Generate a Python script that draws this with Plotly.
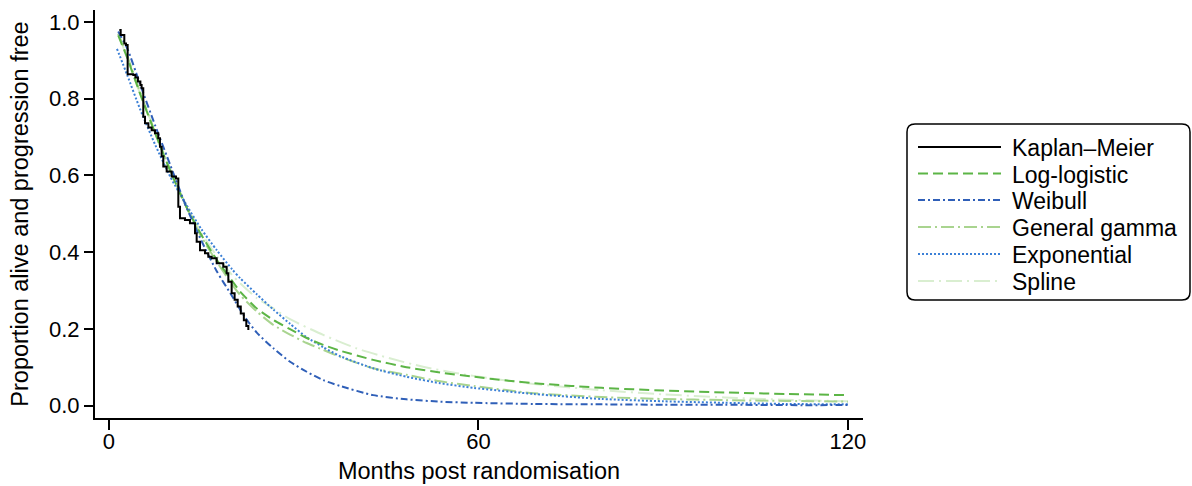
import plotly.graph_objects as go
import re

# ---- data ----
km_t = [1.68, 1.9, 2.49, 2.76, 3.03, 3.95, 4.3, 4.7, 5.1, 5.3, 5.57, 5.85, 6.4, 6.93, 7.47, 8.0, 8.28,
        8.55, 8.82, 9.37, 10.18, 10.88, 11.26, 11.53, 12.34, 13.15, 13.97, 14.24, 14.78, 15.59,
        16.13, 16.67, 17.49, 18.56, 19.11, 19.38, 19.92, 20.4, 20.9, 21.4, 21.9, 22.3, 22.63]
km_s = [0.979, 0.966, 0.944, 0.940, 0.864, 0.862, 0.855, 0.845, 0.836, 0.827, 0.753, 0.736, 0.725,
        0.718, 0.710, 0.697, 0.675, 0.650, 0.623, 0.610, 0.597, 0.592, 0.518, 0.488, 0.484, 0.475,
        0.449, 0.427, 0.405, 0.397, 0.388, 0.384, 0.371, 0.362, 0.345, 0.323, 0.293, 0.276, 0.258,
        0.240, 0.222, 0.207, 0.197]

ll_t = [1.5, 3, 5, 7.5, 10, 12.5, 15, 17.5, 20, 21.3, 24, 26.7, 29.4, 32.1, 34.8, 37.5, 42.9, 48.3,
        53.8, 59.2, 64.6, 70, 80, 90, 100, 110, 120]
ll_s = [0.965, 0.905, 0.815, 0.71, 0.61, 0.52, 0.445, 0.38, 0.325, 0.297, 0.253, 0.223, 0.199, 0.176,
        0.158, 0.143, 0.119, 0.100, 0.086, 0.075, 0.065, 0.057, 0.046, 0.039, 0.034, 0.030, 0.027]

wb_t = [1.5, 3, 5, 7.5, 10, 12.5, 15, 17.5, 20, 22, 24, 26.7, 29.4, 32.1, 34.8, 37.5, 42.9, 48.3,
        53.8, 59.2, 69, 80, 90, 100, 110, 120]
wb_s = [0.975, 0.93, 0.84, 0.73, 0.625, 0.52, 0.43, 0.35, 0.285, 0.232, 0.19, 0.149, 0.114, 0.088,
        0.066, 0.051, 0.027, 0.016, 0.010, 0.007, 0.004, 0.003, 0.002, 0.002, 0.001, 0.001]

gg_t = [1.5, 3, 5, 7.5, 10, 12.5, 15, 17.5, 20, 21.3, 24, 26.7, 29.4, 32.1, 34.8, 37.5, 42.9, 48.3,
        53.8, 59.2, 69, 80, 90, 100, 110, 120]
gg_s = [0.97, 0.91, 0.82, 0.71, 0.61, 0.52, 0.44, 0.375, 0.315, 0.288, 0.245, 0.21, 0.185, 0.163,
        0.145, 0.127, 0.097, 0.080, 0.063, 0.051, 0.032, 0.022, 0.017, 0.014, 0.012, 0.010]

ex_t = [1.3, 3, 5, 7.5, 10, 12.5, 15, 17.5, 20, 21.3, 24, 26.7, 29.4, 32.1, 34.8, 37.5, 42.9, 48.3,
        53.8, 59.2, 69, 80, 90, 100, 110, 120]
ex_s = [0.93, 0.86, 0.775, 0.68, 0.595, 0.525, 0.46, 0.405, 0.355, 0.332, 0.29, 0.25, 0.213, 0.178,
        0.152, 0.129, 0.097, 0.075, 0.058, 0.046, 0.030, 0.017, 0.011, 0.007, 0.004, 0.003]

sp_t = [1.5, 3, 5, 7.5, 10, 12.5, 15, 17.5, 20, 21.3, 24, 26.7, 29.4, 34.8, 40.2, 45.6, 51, 56.5,
        61.9, 69, 80, 90, 100, 110, 120]
sp_s = [0.97, 0.905, 0.815, 0.715, 0.615, 0.525, 0.45, 0.39, 0.34, 0.319, 0.28, 0.253, 0.225, 0.184,
        0.149, 0.123, 0.101, 0.084, 0.071, 0.056, 0.040, 0.029, 0.021, 0.015, 0.011]

x_ticks = [0, 60, 120]
y_ticks = [0.0, 0.2, 0.4, 0.6, 0.8, 1.0]
y_tick_text = ["0.0", "0.2", "0.4", "0.6", "0.8", "1.0"]

names = ["Kaplan–Meier", "Log-logistic", "Weibull", "General gamma", "Exponential", "Spline"]

# ---- styles ----
FONT = "Liberation Sans"
FS = 22
FS_TITLE = 23.5
FS_LEG = 23
W, H = 1192, 486
ML, MR, MT, MB = 95, 329, 10, 68
PW, PH = W - ML - MR, H - MT - MB

styles = [
    dict(color="#000000", width=2, dash="solid"),
    dict(color="#5CB546", width=2, dash="10px,5px"),
    dict(color="#2F5FB8", width=2, dash="7px,3px,2px,3px"),
    dict(color="#A9D48F", width=2, dash="13px,4px,2px,4px"),
    dict(color="#3C80D6", width=2, dash="2px,2px"),
    dict(color="#D9EED0", width=2, dash="16px,5px,2px,5px"),
]

series = [(km_t, km_s), (ll_t, ll_s), (wb_t, wb_s), (gg_t, gg_s), (ex_t, ex_s), (sp_t, sp_s)]

fig = go.Figure()
order = [5, 3, 4, 1, 2, 0]
for i in order:
    t, s = series[i]
    line = dict(color=styles[i]["color"], width=styles[i]["width"], dash=styles[i]["dash"])
    if i == 0:
        line["shape"] = "hv"
    else:
        line["shape"] = "spline"
        line["smoothing"] = 0.6
    fig.add_trace(go.Scatter(x=t, y=s, mode="lines", name=names[i], line=line,
                             showlegend=False, hoverinfo="skip"))

def px(x):
    return (x - ML) / PW

def py(y):
    return (H - MB - y) / PH

# custom legend box (rounded rectangle)
x0, x1, y0, y1, r = 907, 1190, 124, 300, 8
path = (f"M {x0 + r},{y0} L {x1 - r},{y0} Q {x1},{y0} {x1},{y0 + r} L {x1},{y1 - r} "
        f"Q {x1},{y1} {x1 - r},{y1} L {x0 + r},{y1} Q {x0},{y1} {x0},{y1 - r} L {x0},{y0 + r} "
        f"Q {x0},{y0} {x0 + r},{y0} Z")

def conv_path(p):
    def repl(m):
        a, b = float(m.group(1)), float(m.group(2))
        return f"{px(a):.5f},{py(b):.5f}"
    return re.sub(r"([\d.]+),([\d.]+)", repl, p)

fig.add_shape(type="path", xref="paper", yref="paper", path=conv_path(path),
              line=dict(color="#000000", width=1.5), fillcolor="rgba(0,0,0,0)")

entry_y = [147, 173.5, 200, 227, 254, 281]
for i, name in enumerate(names):
    yy = py(entry_y[i])
    fig.add_shape(type="line", xref="paper", yref="paper", x0=px(918), x1=px(1001), y0=yy, y1=yy,
                  line=dict(color=styles[i]["color"], width=styles[i]["width"], dash=styles[i]["dash"]))
    fig.add_annotation(xref="paper", yref="paper", x=px(1011), y=yy, text=name, showarrow=False,
                       xanchor="left", yanchor="middle", borderpad=0, yshift=-1,
                       font=dict(family=FONT, size=FS_LEG, color="#000"))

fig.update_layout(
    width=W, height=H, margin=dict(l=ML, r=MR, t=MT, b=MB, pad=0, autoexpand=False),
    paper_bgcolor="white", plot_bgcolor="white",
    font=dict(family=FONT, size=FS, color="#000"),
    xaxis=dict(range=[-2.27, 122.44], tickvals=x_ticks, ticktext=[str(v) for v in x_ticks],
               automargin=False, ticklabelstandoff=-7,
               showgrid=False, zeroline=False, showline=True, linecolor="#000", linewidth=2,
               ticks="outside", ticklen=10, tickwidth=2, tickcolor="#000",
               title=dict(text="Months post randomisation", standoff=9, font=dict(size=FS_TITLE))),
    yaxis=dict(range=[-0.0326, 1.0313], tickvals=y_ticks, ticktext=y_tick_text,
               automargin=False,
               showgrid=False, zeroline=False, showline=True, linecolor="#000", linewidth=2,
               ticks="outside", ticklen=9, tickwidth=2, tickcolor="#000",
               title=dict(text="Proportion alive and progression free", standoff=14, font=dict(size=FS_TITLE))),
)

fig.write_html("out.html")
